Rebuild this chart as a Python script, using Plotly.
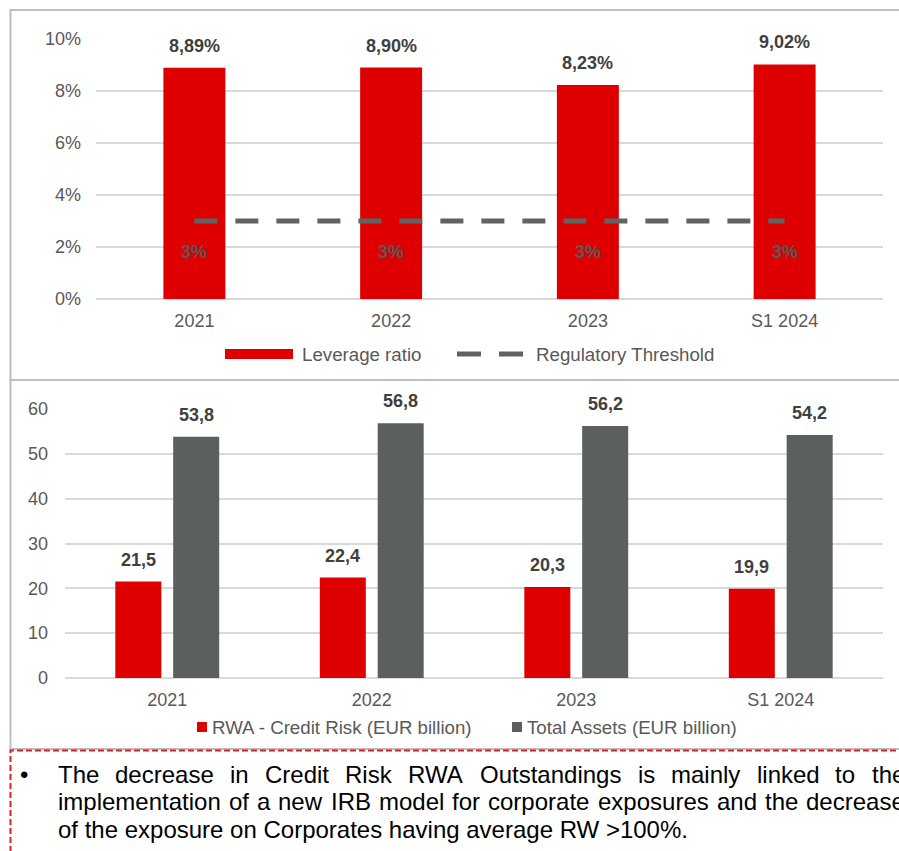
import plotly.graph_objects as go

# ---------------- data ----------------
periods = ["2021", "2022", "2023", "S1 2024"]
leverage_ratio = [8.89, 8.90, 8.23, 9.02]          # %
regulatory_threshold = [3, 3, 3, 3]                # %
rwa_credit_risk = [21.5, 22.4, 20.3, 19.9]         # EUR billion
total_assets = [53.8, 56.8, 56.2, 54.2]            # EUR billion

top_names = ["Leverage ratio", "Regulatory Threshold"]
bottom_names = ["RWA - Credit Risk (EUR billion)", "Total Assets (EUR billion)"]

note_line1 = "The decrease in Credit Risk RWA Outstandings is mainly linked to the"
note_line2 = "implementation of a new IRB model for corporate exposures and the decrease"
note_line3 = "of the exposure on Corporates having average RW >100%."

# ---------------- style ----------------
W, H = 899, 851
RED = "#DE0000"
DARK = "#5B5F60"
LINEGRAY = "#5F6364"
TICK = "#595959"
LABEL = "#404040"
GRID = "#D9D9D9"
BORDER = "#BFBFBF"
FONT = "Liberation Sans, Arial, sans-serif"
FS = 18
LEG_FS = 18.7
NOTE_FS = 24

# Arial / Liberation Sans advance widths (1/1000 em) used to justify the note text
AW = {" ": 278, "%": 889, ",": 278, "-": 333, ".": 278, ">": 584}
AW.update({d: 556 for d in "0123456789"})
AW.update(dict(zip("ABCDEFGHIJKLMNOPQRSTUVWXYZ",
                   [667, 667, 722, 722, 667, 611, 778, 722, 278, 500, 667, 556, 833,
                    722, 778, 667, 778, 722, 667, 611, 722, 667, 944, 667, 667, 611])))
AW.update(dict(zip("abcdefghijklmnopqrstuvwxyz",
                   [556, 556, 500, 556, 556, 278, 556, 556, 222, 222, 500, 222, 833,
                    556, 556, 556, 556, 333, 500, 278, 556, 500, 722, 500, 500, 500])))


def text_w(s, size):
    return sum(AW.get(c, 556) for c in s) * size / 1000.0


def px(x):
    return x / W


def py(y):
    return 1 - y / H


def fmt(v, dec):
    return f"{v:.{dec}f}".replace(".", ",")


idx = list(range(len(periods)))

fig = go.Figure()

# top panel: leverage ratio bars
fig.add_trace(go.Bar(
    x=idx, y=[v / 100 for v in leverage_ratio], name=top_names[0],
    marker=dict(color=RED, line=dict(width=0)), width=0.315,
    xaxis="x", yaxis="y", showlegend=False, hoverinfo="skip",
))
# regulatory threshold dashed line
fig.add_trace(go.Scatter(
    x=idx, y=[v / 100 for v in regulatory_threshold], name=top_names[1],
    mode="lines", line=dict(color=LINEGRAY, width=5, dash="23px,18px"),
    xaxis="x", yaxis="y", showlegend=False, hoverinfo="skip",
))

# bottom panel
fig.add_trace(go.Bar(
    x=idx, y=rwa_credit_risk, name=bottom_names[0],
    marker=dict(color=RED, line=dict(width=0)), width=0.225, offset=-0.254,
    xaxis="x2", yaxis="y2", showlegend=False, hoverinfo="skip",
))
fig.add_trace(go.Bar(
    x=idx, y=total_assets, name=bottom_names[1],
    marker=dict(color=DARK, line=dict(width=0)), width=0.225, offset=0.029,
    xaxis="x2", yaxis="y2", showlegend=False, hoverinfo="skip",
))

annotations = []
lab_font = dict(family=FONT, size=FS, color=LABEL)
for i, v in zip(idx, leverage_ratio):
    annotations.append(dict(x=i, y=v / 100, xref="x", yref="y", text=f"<b>{fmt(v, 2)}%</b>",
                            showarrow=False, yanchor="bottom", yshift=10, font=lab_font))
for i, v in zip(idx, regulatory_threshold):
    annotations.append(dict(x=i, y=v / 100, xref="x", yref="y", text=f"<b>{v}%</b>",
                            showarrow=False, yanchor="middle", yshift=-31,
                            font=dict(family=FONT, size=FS, color=TICK)))
for i, v in zip(idx, rwa_credit_risk):
    annotations.append(dict(x=i - 0.254 + 0.1125, y=v, xref="x2", yref="y2", text=f"<b>{fmt(v, 1)}</b>",
                            showarrow=False, yanchor="bottom", yshift=10, font=lab_font))
for i, v in zip(idx, total_assets):
    annotations.append(dict(x=i + 0.029 + 0.1125, y=v, xref="x2", yref="y2", text=f"<b>{fmt(v, 1)}</b>",
                            showarrow=False, yanchor="bottom", yshift=10, font=lab_font))

leg_font = dict(family=FONT, size=LEG_FS, color=TICK)
# manual legends
annotations += [
    dict(x=px(300), y=py(354), xref="paper", yref="paper", text=top_names[0], showarrow=False,
         xanchor="left", yanchor="middle", font=leg_font),
    dict(x=px(534), y=py(354), xref="paper", yref="paper", text=top_names[1], showarrow=False,
         xanchor="left", yanchor="middle", font=leg_font),
    dict(x=px(210), y=py(727), xref="paper", yref="paper", text=bottom_names[0], showarrow=False,
         xanchor="left", yanchor="middle", font=leg_font),
    dict(x=px(525), y=py(727), xref="paper", yref="paper", text=bottom_names[1], showarrow=False,
         xanchor="left", yanchor="middle", font=leg_font),
]

# note text: lines 1-2 justified (word by word), line 3 left aligned
note_font = dict(family=FONT, size=NOTE_FS, color="#000000")
LEFT, RIGHT = 57, 904
for line, yc in [(note_line1, 774), (note_line2, 801.5)]:
    words = line.split()
    widths = [text_w(w_, NOTE_FS) for w_ in words]
    gap = (RIGHT - LEFT - sum(widths)) / (len(words) - 1)
    x_ = LEFT
    for w_, ww in zip(words, widths):
        annotations.append(dict(x=px(x_), y=py(yc), xref="paper", yref="paper", text=w_,
                                showarrow=False, xanchor="left", yanchor="middle",
                                font=note_font, borderpad=0))
        x_ += ww + gap
annotations.append(dict(x=px(LEFT), y=py(829), xref="paper", yref="paper", text=note_line3,
                        showarrow=False, xanchor="left", yanchor="middle", font=note_font, borderpad=0))
annotations.append(dict(x=px(19), y=py(774), xref="paper", yref="paper", text="•",
                        showarrow=False, xanchor="left", yanchor="middle", font=note_font, borderpad=0))

shapes = [
    # panel frames
    dict(type="rect", xref="paper", yref="paper", x0=px(10.5), x1=px(920), y0=py(380), y1=py(10),
         line=dict(color=BORDER, width=2), layer="below"),
    dict(type="rect", xref="paper", yref="paper", x0=px(10.5), x1=px(920), y0=py(749), y1=py(380),
         line=dict(color=BORDER, width=2), layer="below"),
    # note box
    dict(type="rect", xref="paper", yref="paper", x0=px(10.5), x1=px(920), y0=py(870), y1=py(750.5),
         line=dict(color="#E31E24", width=2, dash="6px,3px")),
    # legend symbols
    dict(type="rect", xref="paper", yref="paper", x0=px(225), x1=px(293), y0=py(359), y1=py(349),
         fillcolor=RED, line=dict(width=0)),
    dict(type="line", xref="paper", yref="paper", x0=px(457), x1=px(523), y0=py(354), y1=py(354),
         line=dict(color=LINEGRAY, width=5, dash="24px,18px")),
    dict(type="rect", xref="paper", yref="paper", x0=px(197), x1=px(207), y0=py(732), y1=py(722),
         fillcolor=RED, line=dict(width=0)),
    dict(type="rect", xref="paper", yref="paper", x0=px(512), x1=px(522), y0=py(732), y1=py(722),
         fillcolor=DARK, line=dict(width=0)),
]

axis_common = dict(showline=False, ticks="", tickfont=dict(family=FONT, size=FS, color=TICK),
                   fixedrange=True, automargin=False)

fig.update_layout(
    template="none",
    width=W, height=H,
    margin=dict(l=0, r=0, t=0, b=0, pad=0, autoexpand=False),
    paper_bgcolor="white", plot_bgcolor="white",
    font=dict(family=FONT, size=FS, color=TICK),
    showlegend=False,
    xaxis=dict(domain=[px(96), px(883)], anchor="y", range=[-0.5, 3.5], tickmode="array",
               tickvals=idx, ticktext=periods, showgrid=False, zeroline=False,
               ticklabelstandoff=9, **axis_common),
    yaxis=dict(domain=[py(299), py(39)], anchor="x", range=[0, 0.1], dtick=0.02, tickformat=".0%",
               showgrid=True, gridcolor=GRID, gridwidth=1.5, zeroline=True, zerolinecolor=GRID,
               zerolinewidth=2, ticklabelstandoff=14, **axis_common),
    xaxis2=dict(domain=[px(65), px(883)], anchor="y2", range=[-0.5, 3.5], tickmode="array",
                tickvals=idx, ticktext=periods, showgrid=False, zeroline=False,
                ticklabelstandoff=9, **axis_common),
    yaxis2=dict(domain=[py(678), py(409)], anchor="x2", range=[0, 60], dtick=10,
                showgrid=True, gridcolor=GRID, gridwidth=1.5, zeroline=True, zerolinecolor=GRID,
                zerolinewidth=2, ticklabelstandoff=16, **axis_common),
    annotations=annotations,
    shapes=shapes,
)

fig.write_html("out.html", config={"displayModeBar": False},
               post_script="document.body.style.margin='0';")
